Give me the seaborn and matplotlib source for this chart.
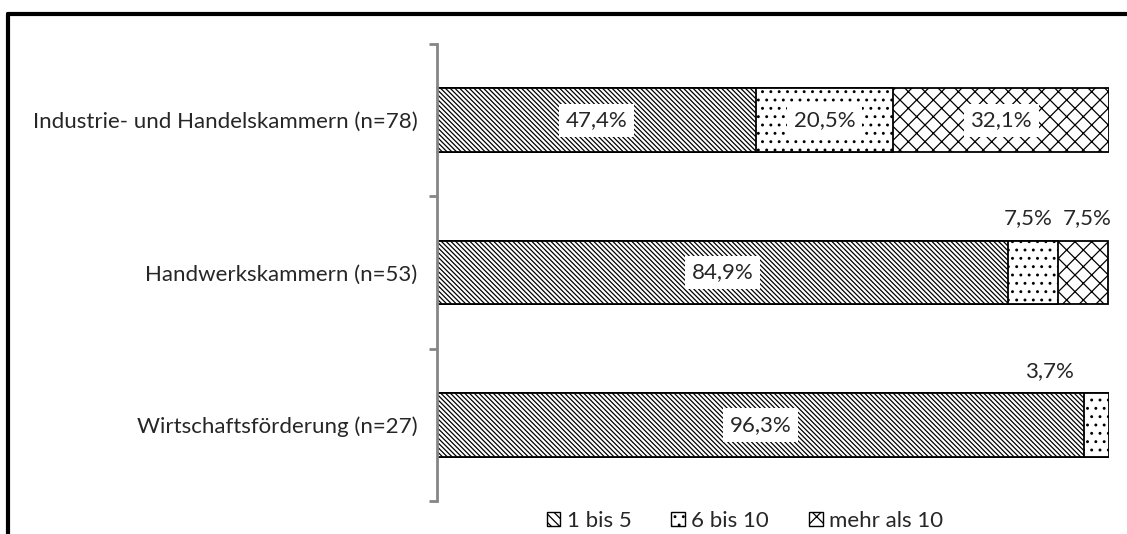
import numpy as np
import pandas as pd
import matplotlib
matplotlib.use("Agg")
import matplotlib.pyplot as plt
import seaborn as sns
from matplotlib.patches import Patch
from matplotlib.lines import Line2D

categories = ["Industrie- und Handelskammern (n=78)",
              "Handwerkskammern (n=53)",
              "Wirtschaftsförderung (n=27)"]
series_names = ["1 bis 5", "6 bis 10", "mehr als 10"]
s1 = [47.4, 84.9, 96.3]
s2 = [20.5, 7.5, 3.7]
s3 = [32.1, 7.5, 0.0]

sns.set_theme(style="white")
plt.rcParams['font.family'] = ['Lato', 'DejaVu Sans']
plt.rcParams['hatch.linewidth'] = 0.9
plt.rcParams['hatch.color'] = '#222222'
FS = 16

fig = plt.figure(figsize=(11.27, 5.34), dpi=100)
ax = fig.add_axes([437/1127, 1-501/534, (1109-437)/1127, (501-44)/534])

df = pd.DataFrame({"cat": categories, "a": s1, "b": s2, "c": s3})
df["c1"] = df["a"]
df["c2"] = df["a"] + df["b"]
df["c3"] = df["a"] + df["b"] + df["c"]

hatches = ['\\' * 7, '..', 'xx']
for col, h in zip(["c3", "c2", "c1"], hatches[::-1]):
    sns.barplot(data=df, y="cat", x=col, orient="h", ax=ax, color="white",
                edgecolor="black", linewidth=1.3, hatch=h, width=0.42,
                saturation=1)

ax.set_xlim(0, 100)
ax.set_ylim(2.5, -0.5)
ax.set_xlabel("")
ax.set_ylabel("")
ax.set_xticks([])
for s in ["top", "right", "bottom"]:
    ax.spines[s].set_visible(False)
ax.spines["left"].set_color("#868686")
ax.spines["left"].set_linewidth(2)
ax.set_yticks([-0.5, 0.5, 1.5, 2.5])
ax.set_yticklabels([])
ax.set_yticks([0, 1, 2], minor=True)
ax.set_yticklabels(categories, minor=True, fontsize=FS)
ax.tick_params(axis="y", which="major", length=6, width=2, color="#868686", left=True)
ax.tick_params(axis="y", which="minor", length=0, pad=14)

# data labels
small_offsets = {(1, 1): (-3, 0), (1, 2): (3, 0), (2, 1): (-34, 0)}
vals = np.array([s1, s2, s3]).T
for i in range(len(categories)):
    left = 0
    for j in range(3):
        v = vals[i, j]
        if v > 0:
            txt = f"{v:.1f}%".replace(".", ",")
            cx = left + v / 2
            if v >= 10:
                ax.text(cx, i, txt, ha="center", va="center", fontsize=FS, zorder=10,
                        bbox=dict(facecolor="white", edgecolor="none",
                                  boxstyle="square,pad=0.3"))
            else:
                dx, dy = small_offsets.get((i, j), (0, 0))
                ax.annotate(txt, (cx, i - 0.21), xytext=(dx, 16 + dy),
                            textcoords="offset points", ha="center", va="center",
                            fontsize=FS, annotation_clip=False)
        left += v

handles = [Patch(facecolor="white", edgecolor="black", hatch=h, linewidth=1)
           for h in ['\\\\\\\\', '..', 'x']]
fig.legend(handles, series_names, loc="center", bbox_to_anchor=(745/1127, 1-521/534),
           ncol=3, frameon=False, fontsize=FS, handlelength=0.6, handleheight=0.6,
           handletextpad=0.3, columnspacing=1.8, borderaxespad=0)

# outer frame
fig.add_artist(Line2D([8/1127, 1.0], [1-14/534, 1-14/534], color="black", lw=3,
                      transform=fig.transFigure))
fig.add_artist(Line2D([8/1127, 8/1127], [1-14/534, 0], color="black", lw=3,
                      transform=fig.transFigure))

fig.savefig("out.png", dpi=100)
